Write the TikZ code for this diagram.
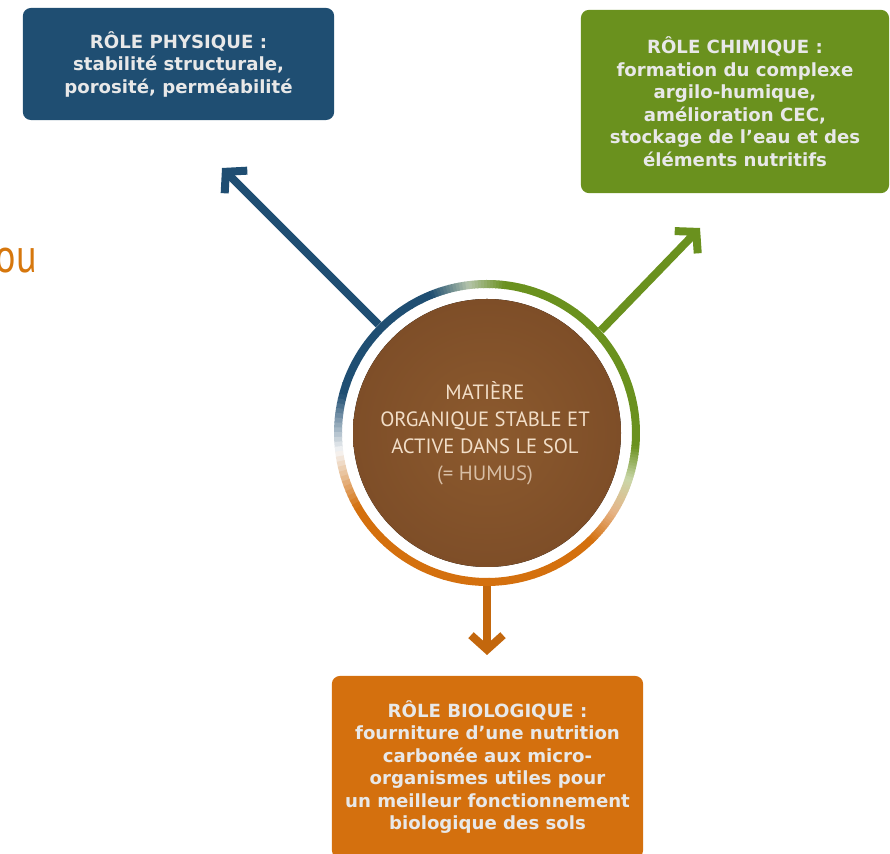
\documentclass[tikz,border=0pt]{standalone}
\usepackage{fontspec}
\usepackage{xcolor}
\usepackage{tikz}
\usetikzlibrary{arrows.meta,positioning}

\newfontfamily\rolefont{DejaVu Sans}
\newfontfamily\humusfont{PT Sans}
\newfontfamily\oufont{PT Sans}[FakeStretch=0.8]

\definecolor{bleu}{HTML}{1F4E72}
\definecolor{vert}{HTML}{6A911E}
\definecolor{orange}{HTML}{D4700E}
\definecolor{brun}{HTML}{7E4E28}
\definecolor{bruncl}{HTML}{8C5A2E}
\definecolor{palev}{HTML}{C9D6A8}
\definecolor{paleo}{HTML}{E6B487}
\definecolor{palem}{HTML}{B4C4AA}
\definecolor{blanc}{HTML}{F6F6F6}
\definecolor{texte}{HTML}{E8E8E8}
\definecolor{humtxt}{HTML}{F2DEC8}

\begin{document}
\begin{tikzpicture}[x=0.025cm, y=0.025cm,
  role/.style={rectangle, rounded corners=0.2cm, text=texte, align=center,
    font=\rolefont\bfseries\fontsize{12.9}{16}\selectfont, inner sep=0pt},
  physique/.style={role, fill=bleu, minimum width=7.78cm, minimum height=2.8cm},
  chimique/.style={role, fill=vert, minimum width=7.7cm, minimum height=4.58cm},
  biologique/.style={role, fill=orange, minimum width=7.78cm, minimum height=4.55cm},
  arrow/.style={-{Straight Barb[length=0.36cm, width=0.8cm]}, line width=0.2cm},
  ringseg/.style={line width=0.2cm, line cap=butt}
]
\useasboundingbox (0,0) rectangle (890,854);

% Roles
\node[physique] (phys) at (178.5,790) {R\^OLE PHYSIQUE :\\stabilit\'e structurale,\\porosit\'e, perm\'eabilit\'e};
\node[chimique] (chim) at (735,752.5) {R\^OLE CHIMIQUE :\\formation du complexe\\argilo-humique,\\am\'elioration CEC,\\stockage de l’eau et des\\\'el\'ements nutritifs};
\node[biologique] (bio) at (487.5,87) {R\^OLE BIOLOGIQUE :\\fourniture d’une nutrition\\carbon\'ee aux micro-\\organismes utiles pour\\un meilleur fonctionnement\\biologique des sols};

% Humus
\node[circle, minimum size=7.65cm, inner sep=0pt] (humus) at (487,421) {};
\fill[inner color=bruncl, outer color=brun] (humus.center) circle[radius=134];
\node[text=humtxt, align=center, font=\humusfont\fontsize{14.7}{19.2}\selectfont]
  (humtext) at (485,421) {MATI\`ERE\\ORGANIQUE STABLE ET\\ACTIVE DANS LE SOL\\{\color{humtxt!78!brun}(= HUMUS)}};

% Ring
\foreach \a/\b/\ca/\cb in {-46/-32/orange/paleo, -32/-18/paleo/palev, -18/-5/palev/vert,
    -5/83/vert/vert, 83/97/vert/palem, 97/112/palem/bleu, 112/165/bleu/bleu,
    165/187/bleu/blanc, 187/210/blanc/orange, 210/314/orange/orange}{
  \foreach \i in {1,...,12}{
    \pgfmathsetmacro\s{\a+(\b-\a)*(\i-1)/12}
    \pgfmathsetmacro\e{\a+(\b-\a)*\i/12+0.3}
    \pgfmathsetmacro\p{100*(\i-0.5)/12}
    \draw[ringseg, color=\cb!\p!\ca] (humus.center) ++(\s:149) arc[start angle=\s, end angle=\e, radius=149];
  }
}

% Arrows
\coordinate (tphys) at (222,686);
\coordinate (tchim) at (700,626);
\coordinate (tbio) at (487,199);
\draw[arrow, bleu] (humus.135) -- (tphys);
\draw[arrow, vert] (humus.42) -- (tchim);
\draw[arrow, orange!92!black] (humus.south) -- (tbio);

% Cut word
\node[anchor=base east, inner sep=0pt, text=orange!95!yellow, font=\oufont\fontsize{34}{40}\selectfont] (ou) at (37,581) {ou};

\end{tikzpicture}
\end{document}
